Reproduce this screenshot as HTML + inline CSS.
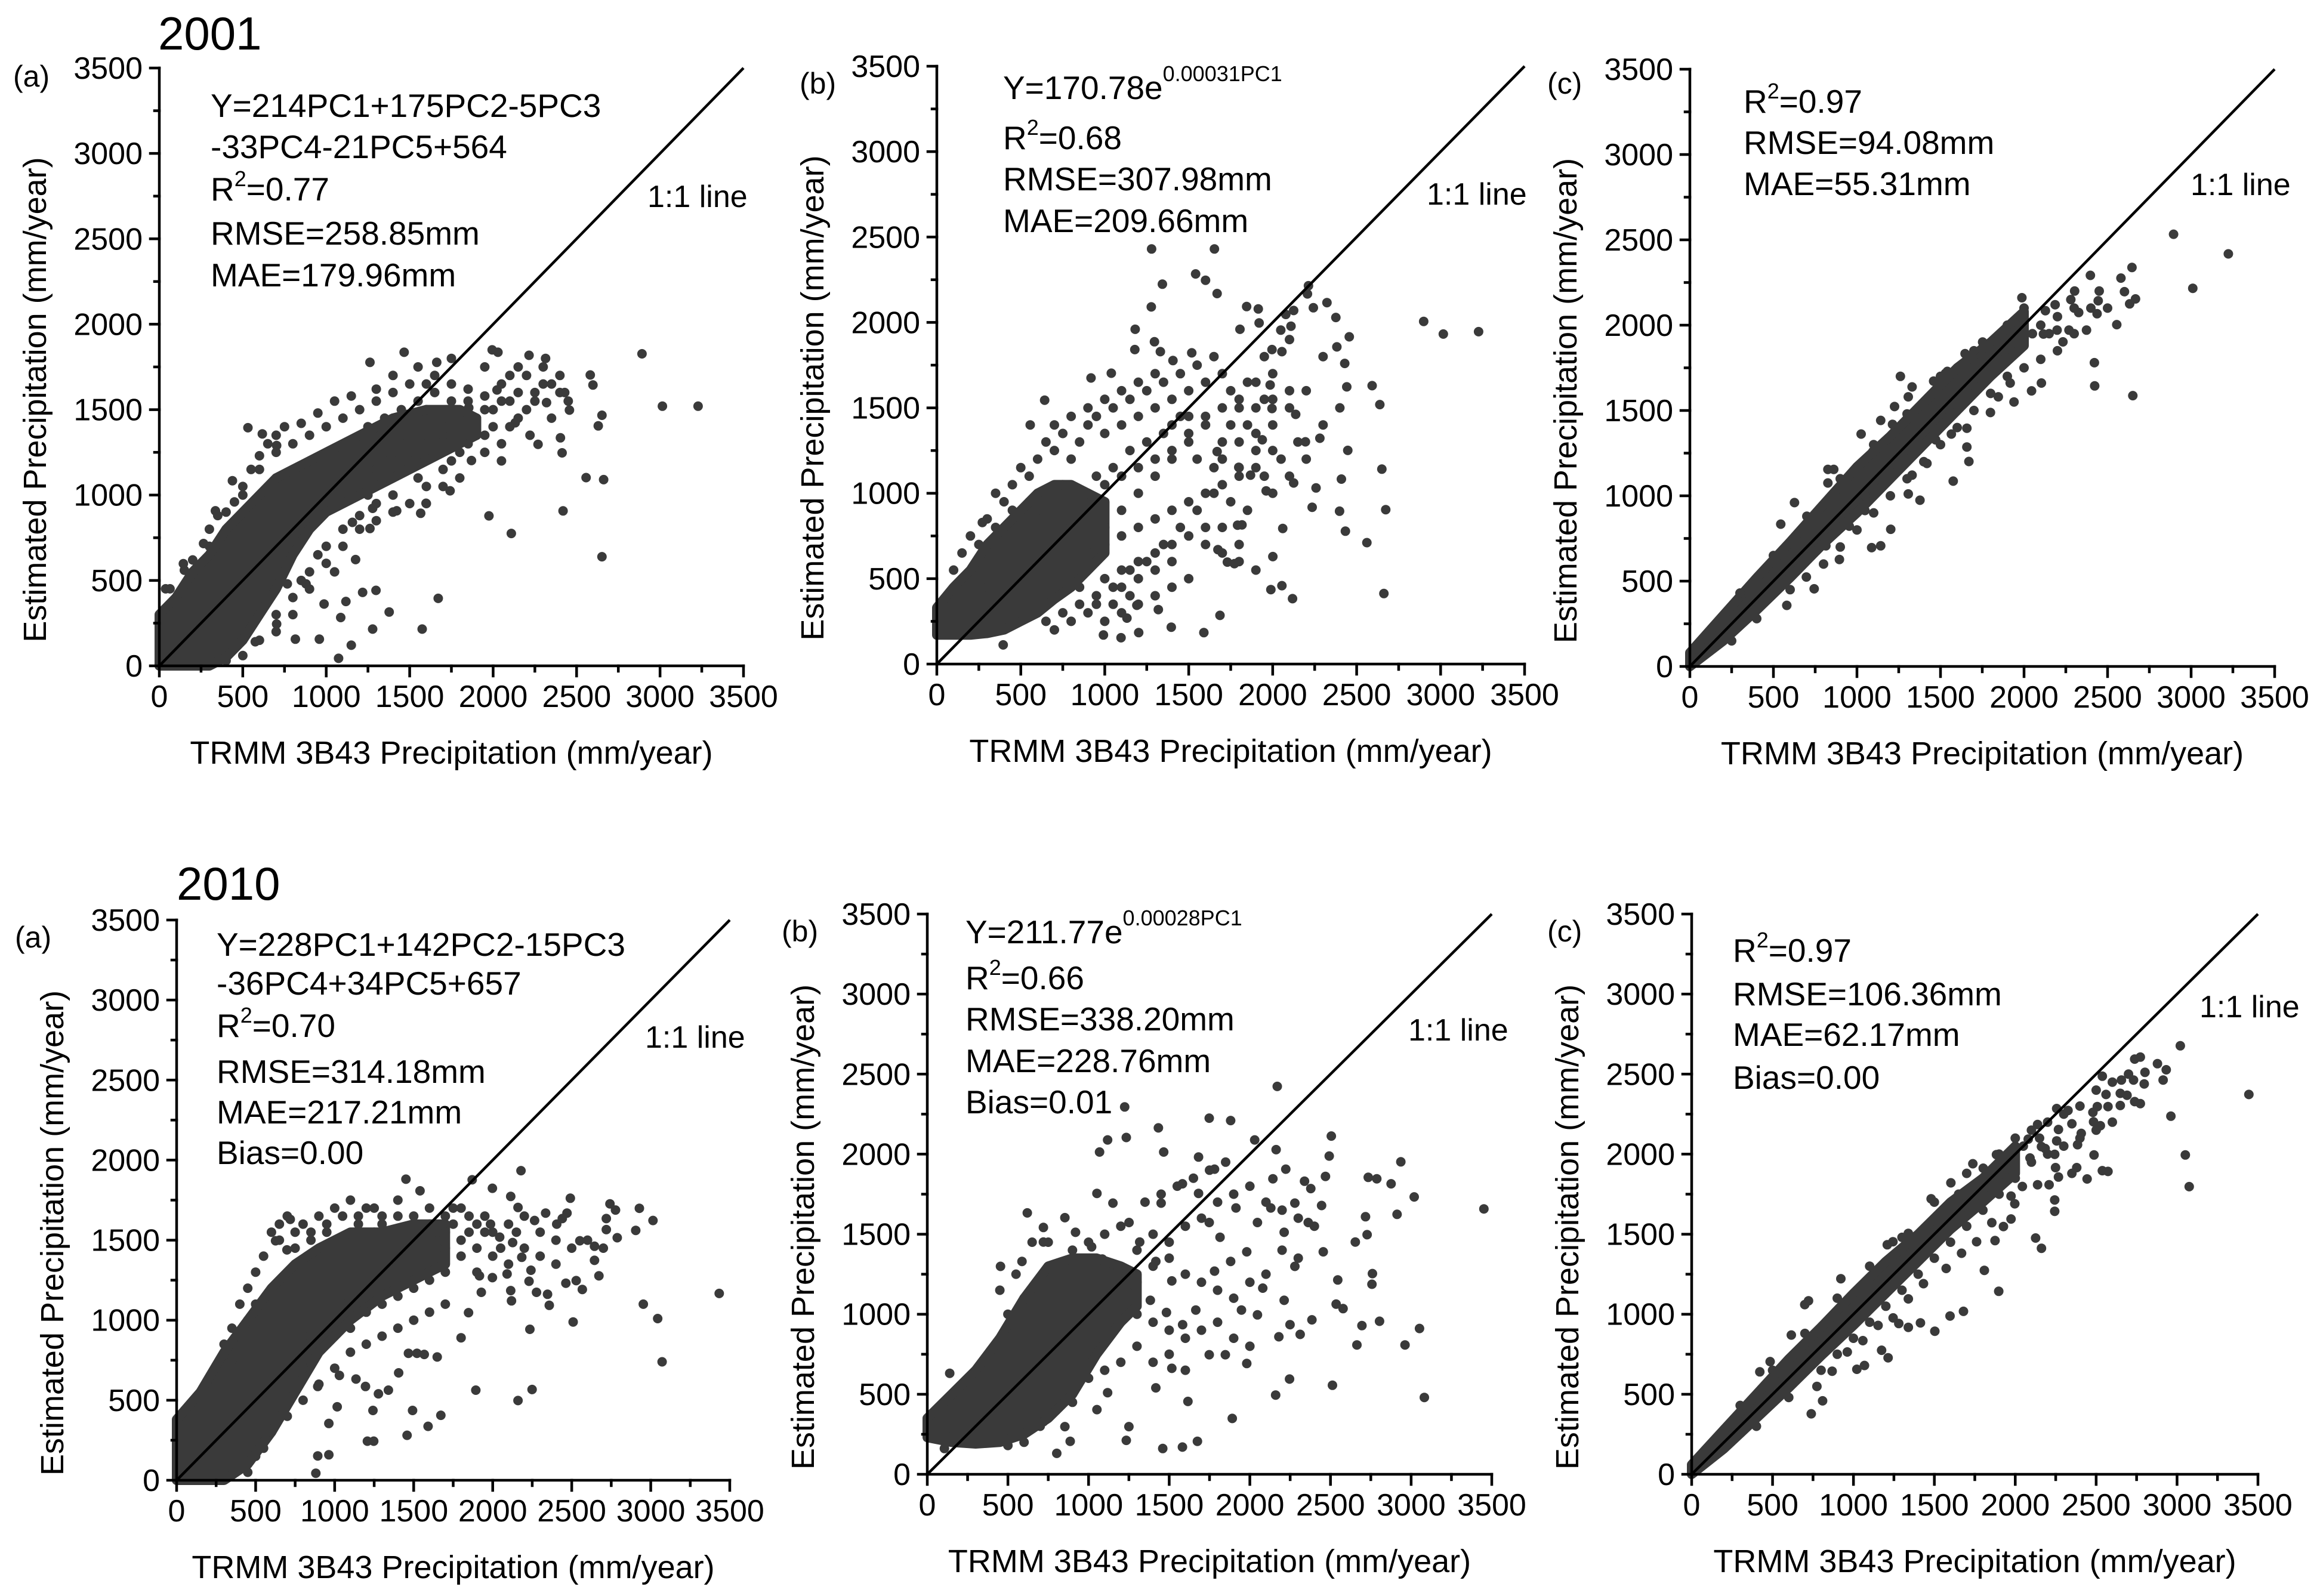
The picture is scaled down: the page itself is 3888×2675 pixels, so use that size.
<!DOCTYPE html>
<html>
<head>
<meta charset="utf-8">
<style>
  html,body{margin:0;padding:0;background:#fff;}
  svg{display:block;}
  text{font-family:"Liberation Sans",Arial,sans-serif;fill:#000;}
</style>
</head>
<body>
<svg id="fig" xmlns="http://www.w3.org/2000/svg" width="3888" height="2675" viewBox="0 0 3888 2675">
  <rect x="0" y="0" width="3888" height="2675" fill="#fff"/>
</svg>
<script>
// ===== shared axis data =====
const tickValues = [0, 500, 1000, 1500, 2000, 2500, 3000, 3500];
const tickLabels = ["0", "500", "1000", "1500", "2000", "2500", "3000", "3500"];
const minorTickValues = [250, 750, 1250, 1750, 2250, 2750, 3250];
const identityLine = [0, 3500];

// ===== 2001 (a) =====
const a01BandX  = [0, 100, 200, 300, 400, 500, 600, 700, 800, 900, 1000, 1200, 1400, 1600, 1800, 1900];
const a01BandHi = [300, 400, 550, 650, 800, 900, 1000, 1100, 1150, 1200, 1250, 1350, 1450, 1500, 1500, 1450];
const a01BandLo = [0, 0, 0, 0, 50, 150, 300, 450, 650, 800, 900, 1000, 1100, 1200, 1300, 1350];
const a01Points = [[2892,1827],[3014,1520],[3228,1520],[2662,1090],[2652,639],[2419,907],[2109,775],[1975,878],[1671,395],[1575,215],[1074,44],[1377,315],[1298,442],[1218,430],[1157,840],[1176,622],[1118,377],[987,362],[1087,283],[1150,121],[2557,1102],[2457,1497],[2320,1541],[2314,1800],[2215,1818],[2582,1703],[2598,1644],[2652,1467],[2630,1405],[2429,1600],[2403,1335],[2269,1297],[2221,1350],[2029,1836],[1994,1850],[1467,1836],[1262,1777],[1662,1777],[2413,1247],[2023,1615],[2132,1423],[1870,1202],[1854,1511],[1742,1025],[1598,952],[1566,893],[1422,908],[1278,922],[1262,804],[927,878],[767,480],[703,245],[543,215],[575,141],[879,480],[815,156],[959,156],[1278,215],[531,1394],[617,1358],[703,1290],[438,1084],[336,908],[265,716],[144,598],[64,451],[38,451],
[200,620],[150,560],[300,700],[350,880],[450,960],[500,1050],[550,1150],[600,1230],[650,1300],[700,1350],[750,1400],[850,1420],[950,1480],[1050,1550],[1150,1580],[1300,1620],[1400,1700],[1550,1750],[1650,1700],[1750,1650],[1850,1620],[1950,1580],[2050,1650],[2100,1550],[2150,1450],[2000,1400],[1900,1350],[1800,1250],[1700,1150],[1600,1050],[1400,1000],[1300,950],[1200,880],[1100,800],[1000,700],[900,550],[800,400],[700,300],[600,150],[500,60],[400,30],[650,600],[850,500],[950,650],[1050,550],[2200,1700],[2300,1650],[2250,1550],[2350,1450],[2150,1750],[2100,1700],[1950,1750],[1750,1800],[1600,1500],[1450,1350],[1350,1250],[1250,1150],[1100,1100],[1700,1400],[1950,1250],[2050,1200],[1850,1450]];
const a01Extra = [[1050,1200],[1150,1300],[1250,1400],[1350,1450],[1450,1500],[1550,1550],[1650,1600],[1750,1550],[1850,1550],[1950,1500],[2050,1550],[2150,1600],[2250,1600],[2400,1600],[2450,1550],[2350,1650],[2200,1500],[2100,1400],[2000,1500],[1900,1450],[1800,1400],[1700,1350],[1600,1300],[1500,1250],[1400,1200],[1300,1150],[1200,1100],[1150,1000],[1250,1000],[1350,1100],[1450,1150],[1550,1100],[1650,1250],[1750,1200],[1850,1300],[1950,1350],[2050,1300],[1600,1650],[1500,1650],[1400,1600],[1300,1550],[1200,1500],[1100,1450],[1000,1400],[900,1350],[800,1300],[700,1250],[600,1150],[500,1000],[400,900],[300,800],[250,600],[700,200],[800,300],[900,450],[1000,600],[1100,700],[1200,800],[1300,850],[1400,900],[1500,950],[1600,950],[1700,1050],[1800,1100],[2300,1750],[2400,1700]];

// ===== 2001 (b) =====
const b01BandX  = [0, 100, 200, 300, 400, 500, 600, 700, 800, 900, 1000];
const b01BandHi = [330, 450, 550, 700, 800, 900, 1000, 1050, 1050, 1000, 950];
const b01BandLo = [170, 170, 170, 180, 200, 250, 300, 380, 450, 550, 650];
const b01Points = [[1279,2430],[1653,2430],[1541,2284],[1600,2247],[1343,2224],[1669,2169],[1277,2091],[2213,2215],[2323,2116],[2376,2029],[2899,2006],[3016,1932],[3226,1946],[2456,1916],[2382,1857],[2429,1760],[2441,1623],[2592,1630],[2638,1519],[2650,1141],[2673,904],[2561,711],[2662,413],[2447,1251],[2281,1322],[2409,1083],[2258,1031],[2433,778],[2398,895],[2235,918],[2118,383],[2055,459],[1989,436],[2001,629],[2060,794],[1817,815],[1791,813],[1730,597],[1772,588],[1674,670],[1686,285],[1590,184],[1396,216],[1319,319],[1191,344],[1132,269],[1097,154],[1202,184],[992,170],[395,112],[271,829],[556,1400],[642,1545],[918,1675],[1039,1703],[1181,1960],[1179,1841],[1296,1887],[1331,1829],[1518,1822],[1406,1777],[1845,2093],[1914,2079],[1919,1997],[1805,1960],[1996,1841],[2055,1829],[2048,1955],[2109,1978],[2078,2047],[2125,2070],[2207,2167],[2242,2086],[1985,1634],[1996,1496],[2137,1462],[2195,1301],[1938,1313],[1868,1106],[1961,1014],[2125,1060],[1798,1152],[1669,1244],
[100,550],[150,650],[200,750],[250,700],[300,850],[350,800],[400,950],[350,1000],[450,1050],[500,1150],[550,1100],[600,1200],[650,1300],[700,1250],[750,1350],[800,1200],[850,1300],[900,1400],[950,1450],[1000,1350],[1050,1500],[1100,1400],[1150,1550],[1200,1450],[1250,1600],[1300,1500],[1350,1650],[1400,1550],[1450,1700],[1500,1600],[1550,1750],[1600,1650],[1650,1800],[1700,1700],[1750,1600],[1800,1500],[1850,1400],[1900,1650],[1950,1550],[2000,1400],[1900,1250],[1800,1150],[1700,1300],[1600,1400],[1500,1300],[1400,1200],[1300,1100],[1200,1000],[1100,900],[1000,800],[900,700],[800,650],[700,600],[600,500],[650,250],[750,300],[850,350],[950,400],[1050,450],[1150,550],[1250,600],[1350,700],[1450,800],[1550,900],[1650,1000],[1750,950],[1850,900],[1950,1100],[2050,1200],[2150,1300],[1500,500],[1400,450],[1300,400],[1200,350],[1100,300],[1000,250],[900,300],[800,250],[700,200],[500,400],[550,650],[450,600],[400,500],[300,450],[250,400],[200,350],[1600,700],[1700,800],[1800,600],[1900,550],[1250,1300],[1350,1350],[1450,1450],[1150,1250],[1050,1150],[950,1100],[850,1000],[750,1050],[650,950],[600,850],[500,800],[1550,1200],[1650,1150],[1750,1400],[1850,1650],[2000,1700],[2100,1500],[2200,1600]];
const b01Extra = [[700,900],[800,950],[900,1000],[1000,1050],[1100,1100],[1200,1150],[1300,1200],[1400,1250],[1500,1350],[1600,1450],[1700,1500],[1800,1550],[1900,1500],[2000,1550],[2100,1600],[1000,700],[1100,750],[1200,800],[1300,850],[1400,900],[1500,950],[1600,1000],[1700,1050],[1800,1100],[1900,1150],[2000,1000],[1100,550],[1200,600],[1300,650],[1400,700],[1500,750],[1600,800],[1700,650],[1800,700],[900,600],[800,550],[1000,500],[1100,450],[1200,500],[1300,550],[1400,600],[850,450],[950,350],[1050,350],[1150,400],[750,800],[650,850],[550,950],[450,900],[350,700],[250,600],[150,500],[1300,1700],[1200,1650],[1100,1600],[1000,1550],[900,1500],[800,1450],[700,1400],[1400,1400],[1500,1450],[1700,1200],[1800,1300],[1900,1350],[2000,1250],[2100,1100],[2200,1200],[2300,1400],[2400,1500],[2300,1800],[2100,1900],[1950,1800]];

// ===== 2001 (c) =====
const c01BandX  = [0, 200, 400, 600, 800, 1000, 1200, 1400, 1600, 1800, 2000];
const c01BandHi = [80, 300, 520, 730, 950, 1170, 1350, 1550, 1750, 1900, 2080];
const c01BandLo = [0, 150, 330, 520, 720, 900, 1100, 1300, 1500, 1700, 1880];
const c01Points = [[2895,2533],[3223,2418],[3010,2216],[2646,2338],[2580,2276],[2601,2196],[2667,2154],[2632,2125],[2397,2292],[2555,2003],[2421,1780],[2423,1644],[2651,1587],[2374,1971],[2444,2143],[2437,2067],[2327,2074],[2269,1971],[2198,1971],[2233,1902],[2104,1661],[2045,1615],[1940,1550],[1917,1661],[1987,2161],[1982,2049],[1260,1700],[1658,1286],[1670,1201],[1576,1086],[1377,974],[1307,1011],[1202,804],[1142,707],[1088,696],[895,627],[744,455],[580,358],[544,834],[626,960],[826,1155],[1213,1419],[1307,1580],[1459,1672],[1530,1718],[1647,1833],[1752,1867],[1987,2062],[2128,2085],[2116,1948],[2186,2120],[2280,2150],[2303,2200],
[1377,1305],[1471,1328],[1565,1362],[1658,1396],[1799,1488],[1846,1580],[1419,1190],[1330,1121],[1142,1144],[1048,914],[954,822],[931,983],[814,707],[697,524],[509,478],[1095,1259],[861,1155],[826,1075],[1025,1362],[1142,1442],[1225,1523],[1330,1638],[1541,1729],[1752,1901],[1834,1902],[1916,1971]];
const c01Extra = [[300,430],[500,650],[700,880],[900,1100],[1100,1300],[1300,1480],[1500,1700],[1700,1850],[1900,2000],[2000,2100],[2100,2000],[2200,2050],[2300,2100],[2400,2100],[2500,2100],[2450,2200],[2300,1950],[2200,1850],[2100,1800],[2000,1750],[1900,1700],[1800,1600],[1700,1500],[1600,1400],[1500,1300],[1400,1200],[1300,1100],[1200,1000],[1100,900],[1000,800],[900,700],[800,600],[600,450],[400,280],[250,150],[1950,1900],[2050,1950],[2150,1950],[1850,1800],[1750,1700],[1650,1600],[1550,1500],[1450,1400],[1350,1300],[1250,1200],[1150,1100],[1050,1000]];

// ===== 2010 (a) =====
const a10BandX  = [0, 150, 300, 450, 600, 750, 900, 1100, 1300, 1500, 1700];
const a10BandHi = [380, 550, 800, 1000, 1200, 1350, 1450, 1550, 1550, 1600, 1600];
const a10BandLo = [0, 0, 0, 100, 300, 550, 800, 1000, 1150, 1250, 1350];
const a10Points = [[3433,1167],[3072,740],[3044,1010],[2953,1100],[3014,1623],[2928,1699],[2905,1561],[2788,1515],[2742,1727],[2719,1635],[2777,1688],[2719,1566],[2644,1374],[2644,1462],[2672,1277],[2567,1192],[2509,989],[2528,1247],[2463,1231],[2491,1762],[2470,1669],[2551,1496],[2405,1600],[2358,1093],[2249,567],[2160,498],[2235,943],[1893,563],[1800,890],[1672,406],[1591,337],[1458,281],[1493,436],[1247,244],[1207,244],[1242,436],[1277,540],[1340,563],[1405,671],[1649,770],[1567,786],[1521,793],[1467,793],[2179,1934],[1998,1824],[1870,1877],[1451,1881],[1540,1808],[719,1630],[626,1496],[698,1439],[1016,459],[1195,586],[1135,632],[1030,655],[893,586],[881,44],[893,152],[963,159],[963,355],[2114,1185],[2119,1121],[2347,1162],[2277,1174],[2230,1243],[2091,1289],[1998,1266],[1916,1277],[1847,1047],[1928,1174],[2184,1393],[2242,1312],[2126,1485],[2044,1519],[1986,1600],[2160,1704],[2114,1773],[2265,1623],[2335,1669],[2440,1635],
[300,850],[350,950],[400,1100],[450,1200],[500,1300],[550,1400],[600,1550],[650,1600],[700,1650],[800,1600],[900,1650],[1000,1700],[1100,1750],[1200,1700],[1300,1650],[1400,1750],[1500,1650],[1600,1600],[1700,1550],[1800,1500],[1900,1450],[1700,1300],[1600,1250],[1500,1200],[1400,1150],[1300,1100],[1200,1050],[1100,950],[1000,900],[900,800],[800,700],[700,500],[600,400],[550,200],[500,150],[450,50],[750,1450],[850,1500],[950,1550],[1050,1500],[1150,1600],[1250,1550],[1350,1450],[1450,1400],[1550,1450],[1650,1450],[1750,1700],[1850,1650],[1950,1550],[2050,1450],[2150,1550],[1350,1300],[1250,1250],[800,900],[700,800],[600,650],[1600,1050],[1700,1100]];
const a10Extra = [[1300,1600],[1400,1650],[1500,1550],[1600,1700],[1700,1650],[1800,1700],[1900,1600],[2000,1550],[2100,1600],[2200,1650],[2300,1550],[2400,1500],[2500,1450],[2600,1500],[2700,1450],[1800,1400],[1900,1300],[2000,1400],[2100,1350],[2200,1450],[2300,1400],[2400,1350],[1500,1350],[1400,1300],[1600,1400],[1700,1450],[1500,1000],[1400,950],[1300,900],[1200,850],[1100,800],[1000,700],[900,600],[800,500],[700,400],[600,300],[550,500],[650,700],[750,800],[850,950],[950,1050],[1050,1100],[1150,1200],[1250,1300],[1350,1400],[1450,1500],[1550,1500],[1650,1550],[1750,1600],[1850,1550],[1950,1650],[500,1100],[450,1000],[400,900],[350,750],[250,600],[200,550],[150,500],[650,1500],[750,1550],[850,1550],[950,1600],[1050,1650],[1150,1650],[1250,1700]];

// ===== 2010 (b) =====
const b10BandX  = [0, 150, 300, 450, 600, 750, 900, 1050, 1200, 1300];
const b10BandHi = [350, 500, 650, 850, 1100, 1300, 1350, 1350, 1300, 1250];
const b10BandLo = [230, 200, 190, 200, 250, 350, 500, 750, 950, 1050];
const b10Points = [[3451,1658],[3082,480],[3052,911],[2962,808],[3019,1733],[2936,1952],[2913,1624],[2804,956],[2695,929],[2664,808],[2757,1187],[2760,1254],[2717,1609],[2734,1855],[2787,1846],[2876,1815],[2654,1451],[2727,1497],[2578,1035],[2512,556],[2535,1063],[2545,1214],[2505,2113],[2492,1988],[2469,1861],[2455,1390],[2362,1573],[2339,1831],[2279,1299],[2385,965],[2312,874],[2249,935],[2246,595],[2180,859],[2213,1087],[2160,495],[2143,1846],[2170,2423],[2030,2089],[2163,2028],[2223,1906],[1881,2210],[1748,2225],[1433,2164],[1224,2295],[1234,2104],[1118,2089],[1068,2013],[1466,2013],[1682,1982],[1781,1906],[1891,349],[1675,206],[1582,170],[1460,161],[1234,212],[1250,298],[886,206],[803,131],[1052,404],[1118,510],[1417,540],[1516,662],[1616,455],[1748,747],[1848,747],[1981,692],[2047,996],[1948,1026],[2080,1163],[1914,1664],[1881,1330],[1781,1269],[1665,1026],[1583,935],[1483,1011],[1383,1087],[1284,1178],[1184,1269],[1085,1345],[1019,1421],[1516,1208],[1417,1330],[1317,1451],[1251,1573],[1151,1694],[1052,1755],[853,1603],[720,1542],[620,1633],[454,1299],[587,1330],[720,1451],[919,1512],[1682,1755],[1582,1815],[1450,1694],[1748,1573],[1815,1481],[1981,1390],[2047,1573],[2130,1664],[2279,1694],[2378,1785],[2445,1679],[2213,1512],
[139,631],[289,449],[421,389],[654,358],[720,328],[853,298],[123,237],[189,252],[106,161]];
const b10Extra = [[1300,1400],[1400,1500],[1500,1450],[1600,1550],[1700,1600],[1800,1700],[1900,1750],[2000,1800],[2100,1700],[2200,1650],[2300,1600],[2400,1550],[1300,1200],[1400,1300],[1500,1350],[1600,1250],[1700,1200],[1800,1150],[1900,1100],[2000,1200],[2100,1250],[2200,1400],[2300,1350],[1300,1000],[1400,950],[1500,900],[1600,850],[1700,900],[1800,950],[1900,850],[2000,800],[1300,800],[1400,700],[1500,750],[1600,650],[1200,700],[1100,650],[1000,600],[900,550],[1000,800],[1100,850],[1200,950],[900,450],[800,400],[700,300],[600,200],[500,180],[400,400],[500,600],[600,700],[700,800],[800,900],[500,1000],[600,1100],[700,1200],[800,1300],[900,1400],[1000,1450],[1100,1500],[1200,1550],[650,1450],[750,1450],[550,1250],[450,1150],[1350,1700],[1450,1750],[1550,1800],[1650,1850],[1750,1900],[1850,1950]];

// ===== 2010 (c) =====
const c10BandX  = [0, 200, 400, 600, 800, 1000, 1200, 1400, 1600, 1800, 2000];
const c10BandHi = [60, 280, 500, 720, 920, 1130, 1330, 1500, 1700, 1850, 2050];
const c10BandLo = [0, 160, 350, 540, 740, 930, 1130, 1330, 1530, 1700, 1880];
const c10Points = [[3444,2373],[3020,2677],[3075,1797],[3051,1995],[2962,2237],[2933,2527],[2914,2463],[2879,2565],[2802,2511],[2797,2439],[2773,2606],[2738,2594],[2738,2328],[2773,2316],[2731,2463],[2656,2463],[2649,2380],[2691,2368],[2649,2304],[2573,2297],[2507,2297],[2561,2373],[2484,2202],[2526,2178],[2480,2261],[2538,2487],[2573,1892],[2538,1897],[2487,1995],[2444,1845],[2380,1916],[2385,2059],[2408,2130],[2350,2190],[2326,2273],[2267,2154],[2256,2083],[2185,2035],[2244,1999],[2249,1916],[2267,1857],[2209,1809],[2138,1809],[2244,1714],[2244,1643],[2126,1476],[2162,1412],[2350,1880],[1997,1690],[1974,1595],[1927,1548],[1875,1460],[1898,1143],[1809,1274],[1680,1018],[1597,989],[1503,894],[1414,946],[1339,918],[1280,942],[1214,728],[1174,775],[1021,656],[1068,680],[809,459],[739,378],[699,1060],[722,1084],[616,870],[485,704],[421,640],[922,1222],[1209,1434],[1244,1453],[1339,1505],[1480,1721],[1602,1821],[1738,1940],[1802,1912],[1884,1997],[2256,2285],[2138,2185],[2080,2094],
[1573,1286],[1668,1381],[1761,1453],[1855,1572],[1433,1191],[1339,1096],[1245,977],[1152,930],[1058,835],[962,764],[868,644],[774,549],[1456,1453],[1550,1500],[1620,1595],[1712,1690],[1806,1786],[1923,1881],[1997,1904],[2091,1976],[2162,2047],[2044,1798],[1974,1738]];
const c10Extra = [[300,430],[500,650],[700,880],[900,1100],[1100,1300],[1300,1480],[1500,1700],[1700,1880],[1900,2000],[2000,2100],[2100,2150],[2200,2200],[2300,2250],[2400,2300],[2500,2400],[2600,2450],[2700,2500],[2100,1950],[2200,2000],[2300,2050],[2400,2100],[2500,2150],[2600,2200],[2000,1850],[1900,1750],[1800,1650],[1700,1550],[1600,1450],[1500,1350],[1400,1250],[1300,1150],[1200,1050],[1100,950],[1000,850],[900,750],[800,650],[600,480],[400,300],[1850,1900],[1950,1950],[2050,2050],[2150,2100],[1750,1800],[1650,1750],[1550,1600]];

// ===== layout (pixels, not data) =====
const panels = [
  {id:"2001-a", tag:"(a)", x0:267,  x1:1246, yt:114,  yb:1116, tagX:22,   tagY:145,  band:[a01BandX,a01BandLo,a01BandHi], pts:a01Points.concat(a01Extra),
   ann:{x:353, ys:[196,265,336,410,480], lines:["Y=214PC1+175PC2-5PC3","-33PC4-21PC5+564","R2=0.77","RMSE=258.85mm","MAE=179.96mm"]}, one:{x:1085,y:347}},
  {id:"2001-b", tag:"(b)", x0:1570, x1:2555, yt:111,  yb:1113, tagX:1340, tagY:157,  band:[b01BandX,b01BandLo,b01BandHi], pts:b01Points.concat(b01Extra),
   ann:{x:1681, ys:[166,250,319,389], lines:["Y=170.78e|0.00031PC1","R2=0.68","RMSE=307.98mm","MAE=209.66mm"]}, one:{x:2391,y:343}},
  {id:"2001-c", tag:"(c)", x0:2832, x1:3812, yt:116,  yb:1117, tagX:2593, tagY:157,  band:[c01BandX,c01BandLo,c01BandHi], pts:c01Points.concat(c01Extra),
   ann:{x:2922, ys:[189,258,327], lines:["R2=0.97","RMSE=94.08mm","MAE=55.31mm"]}, one:{x:3671,y:327}},
  {id:"2010-a", tag:"(a)", x0:296,  x1:1223, yt:1542, yb:2481, tagX:25,   tagY:1588, band:[a10BandX,a10BandLo,a10BandHi], pts:a10Points.concat(a10Extra),
   ann:{x:363, ys:[1602,1667,1738,1815,1883,1951], lines:["Y=228PC1+142PC2-15PC3","-36PC4+34PC5+657","R2=0.70","RMSE=314.18mm","MAE=217.21mm","Bias=0.00"]}, one:{x:1081,y:1756}},
  {id:"2010-b", tag:"(b)", x0:1554, x1:2500, yt:1532, yb:2471, tagX:1310, tagY:1578, band:[b10BandX,b10BandLo,b10BandHi], pts:b10Points.concat(b10Extra),
   ann:{x:1618, ys:[1581,1658,1727,1797,1866], lines:["Y=211.77e|0.00028PC1","R2=0.66","RMSE=338.20mm","MAE=228.76mm","Bias=0.01"]}, one:{x:2360,y:1744}},
  {id:"2010-c", tag:"(c)", x0:2835, x1:3784, yt:1532, yb:2471, tagX:2593, tagY:1578, band:[c10BandX,c10BandLo,c10BandHi], pts:c10Points.concat(c10Extra),
   ann:{x:2904, ys:[1612,1685,1753,1825], lines:["R2=0.97","RMSE=106.36mm","MAE=62.17mm","Bias=0.00"]}, one:{x:3686,y:1705}}
];

const NS = "http://www.w3.org/2000/svg";
const svg = document.getElementById("fig");
const DOT = "#3a3a3a";
function mk(tag, attrs, parent) {
  const e = document.createElementNS(NS, tag);
  for (const k in attrs) e.setAttribute(k, attrs[k]);
  (parent || svg).appendChild(e);
  return e;
}

// year titles
const t2001 = mk("text", {x:265, y:83, "font-size":78});
t2001.textContent = "2001";


const t2010 = mk("text", {x:296, y:1508, "font-size":78});
t2010.textContent = "2010";



panels.forEach(p => {
  const g = mk("g", {});
  
  
  const sx = v => p.x0 + (v / 3500) * (p.x1 - p.x0);
  const sy = v => p.yb - (v / 3500) * (p.yb - p.yt);

  // dense core band
  const [bx, blo, bhi] = p.band;
  let d = "";
  for (let i = 0; i < bx.length; i++) d += (i ? "L" : "M") + sx(bx[i]).toFixed(1) + "," + sy(bhi[i]).toFixed(1);
  for (let i = bx.length - 1; i >= 0; i--) d += "L" + sx(bx[i]).toFixed(1) + "," + sy(blo[i]).toFixed(1);
  d += "Z";
  const band = mk("path", {d:d, fill:DOT, stroke:DOT, "stroke-width":16, "stroke-linejoin":"round"}, g);
  
  

  // points
  const pg = mk("g", {fill:DOT}, g);
  
  
  p.pts.forEach(pt => {
    const c = mk("circle", {cx:sx(pt[0]).toFixed(1), cy:sy(pt[1]).toFixed(1), r:8}, pg);
    
    
  });

  // 1:1 line
  const ln = mk("line", {x1:sx(identityLine[0]), y1:sy(identityLine[0]), x2:sx(identityLine[1]), y2:sy(identityLine[1]), stroke:"#000", "stroke-width":4.5}, g);
  
  
  const lt = mk("text", {x:p.one.x, y:p.one.y, "font-size":52}, g);
  lt.textContent = "1:1 line";
  
  

  // axes
  const ax = mk("g", {stroke:"#000", "stroke-width":4.5, "stroke-linecap":"square"}, g);
  
  
  mk("line", {x1:p.x0, y1:p.yb, x2:p.x1, y2:p.yb}, ax);
  mk("line", {x1:p.x0, y1:p.yb, x2:p.x0, y2:p.yt}, ax);
  tickValues.forEach((v, i) => {
    mk("line", {x1:sx(v), y1:p.yb, x2:sx(v), y2:p.yb + 17}, ax);
    mk("line", {x1:p.x0, y1:sy(v), x2:p.x0 - 15, y2:sy(v)}, ax);
    const xl = mk("text", {x:sx(v), y:p.yb + 69, "font-size":52, "text-anchor":"middle", stroke:"none"}, g);
    xl.textContent = tickLabels[i];
    
    
    const yl = mk("text", {x:p.x0 - 28, y:sy(v) + 18, "font-size":52, "text-anchor":"end", stroke:"none"}, g);
    yl.textContent = tickLabels[i];
    
    
  });
  minorTickValues.forEach(v => {
    mk("line", {x1:sx(v), y1:p.yb, x2:sx(v), y2:p.yb + 9}, ax);
    mk("line", {x1:p.x0, y1:sy(v), x2:p.x0 - 8, y2:sy(v)}, ax);
  });

  // axis titles
  const xt = mk("text", {x:(p.x0 + p.x1) / 2, y:p.yb + 164, "font-size":54, "text-anchor":"middle"}, g);
  xt.textContent = "TRMM 3B43 Precipitation (mm/year)";
  
  
  const ycx = p.x0 - 190, ycy = (p.yt + p.yb) / 2 + 55;
  const yt = mk("text", {x:ycx, y:ycy, "font-size":54, "text-anchor":"middle", transform:"rotate(-90 " + ycx + " " + ycy + ")"}, g);
  yt.textContent = "Estimated Precipitation (mm/year)";
  
  

  // panel tag
  const tg = mk("text", {x:p.tagX, y:p.tagY, "font-size":50}, g);
  tg.textContent = p.tag;
  
  

  // annotation
  p.ann.lines.forEach((s, i) => {
    const t = mk("text", {x:p.ann.x, y:p.ann.ys[i], "font-size":55}, g);
    
    
    if (s.indexOf("|") >= 0) {
      const parts = s.split("|");
      const a = mk("tspan", {}, t); a.textContent = parts[0];
      const b = mk("tspan", {dy:-30, "font-size":36}, t); b.textContent = parts[1];
    } else if (s.indexOf("R2") === 0) {
      const a = mk("tspan", {}, t); a.textContent = "R";
      const b = mk("tspan", {dy:-24, "font-size":36}, t); b.textContent = "2";
      const c = mk("tspan", {dy:24}, t); c.textContent = s.slice(2);
    } else {
      t.textContent = s;
    }
  });
});
</script>
</body>
</html>
